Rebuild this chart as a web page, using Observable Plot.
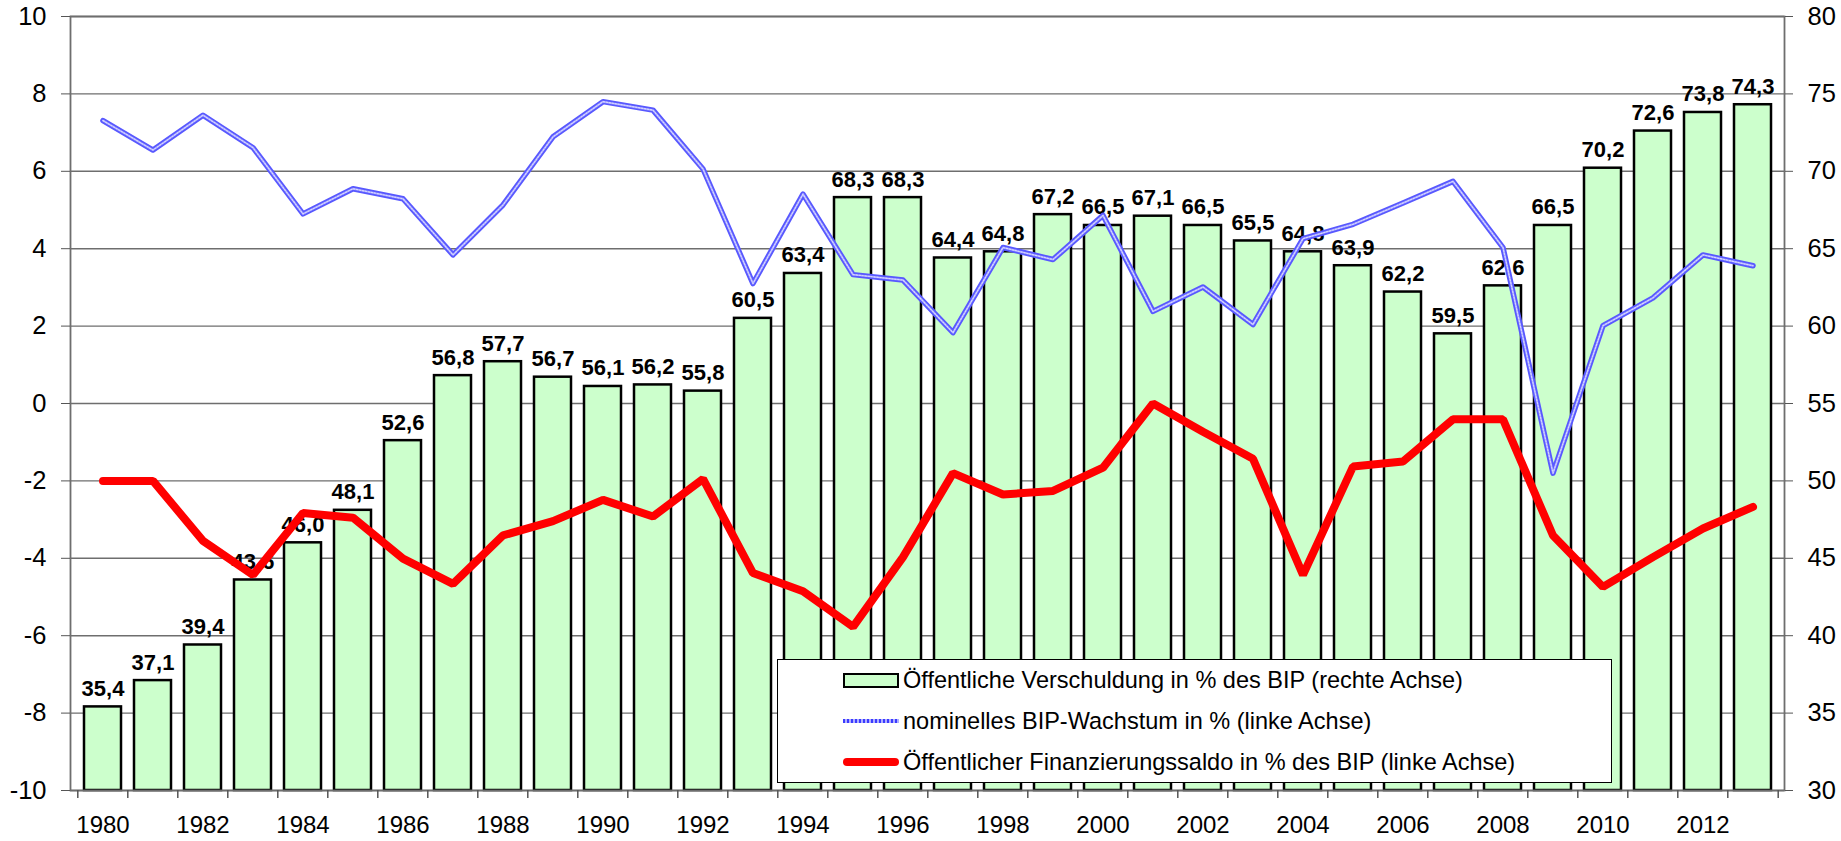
<!DOCTYPE html>
<html><head><meta charset="utf-8">
<script src="https://cdn.jsdelivr.net/npm/d3@7"></script>
<script src="https://cdn.jsdelivr.net/npm/@observablehq/plot@0.6"></script>
<style>
body{margin:0;background:#fff;}
#wrap{position:relative;width:1841px;height:841px;}
#legend{position:absolute;left:777px;top:659px;width:835px;height:124px;border:1.5px solid #000;background:#fff;box-sizing:border-box;
 font-family:Arial,"Liberation Sans",sans-serif;color:#000;}
.row{position:absolute;left:0;height:30px;display:flex;align-items:center;white-space:nowrap;}
.sym{width:56px;margin-left:65px;margin-right:4px;box-sizing:border-box;}
</style>
</head><body>
<div id="wrap"></div>
<script>
const years = [1980,1981,1982,1983,1984,1985,1986,1987,1988,1989,1990,1991,1992,1993,1994,1995,1996,1997,1998,1999,2000,2001,2002,2003,2004,2005,2006,2007,2008,2009,2010,2011,2012,2013];
const debt = [35.4,37.1,39.4,43.6,46.0,48.1,52.6,56.8,57.7,56.7,56.1,56.2,55.8,60.5,63.4,68.3,68.3,64.4,64.8,67.2,66.5,67.1,66.5,65.5,64.8,63.9,62.2,59.5,62.6,66.5,70.2,72.6,73.8,74.3];
const growth = [7.31,6.55,7.45,6.61,4.90,5.55,5.29,3.84,5.13,6.89,7.80,7.58,6.06,3.10,5.41,3.33,3.19,1.83,4.03,3.72,4.86,2.38,3.01,2.04,4.26,4.63,5.18,5.74,4.03,-1.80,2.01,2.73,3.84,3.56];
const balance = [-2.0,-2.0,-3.55,-4.43,-2.83,-2.95,-4.01,-4.66,-3.41,-3.04,-2.49,-2.92,-1.95,-4.38,-4.85,-5.77,-3.97,-1.80,-2.35,-2.26,-1.66,0.0,-0.73,-1.43,-4.43,-1.63,-1.50,-0.41,-0.41,-3.41,-4.74,-3.97,-3.23,-2.67];
const leftTicks = [-10,-8,-6,-4,-2,0,2,4,6,8,10];
const rightTicks = [30,35,40,45,50,55,60,65,70,75,80];
const labelYears = [1980,1982,1984,1986,1988,1990,1992,1994,1996,1998,2000,2002,2004,2006,2008,2010,2012];
const legendLabels = [
  "Öffentliche Verschuldung in % des BIP (rechte Achse)",
  "nominelles BIP-Wachstum in % (linke Achse)",
  "Öffentlicher Finanzierungssaldo in % des BIP (linke Achse)"
];

// right axis (30..80) mapped onto left axis (-10..10)
const toLeft = d => (d - 55) * 0.4;
const toRight = v => Math.round(v / 0.4 + 55);
const fmt = v => v.toFixed(1).replace(".", ",");

const W = 1841, H = 841, mL = 70, mR = 57, mT = 16, mB = 51;
const step = (W - mL - mR) / years.length;
const rows = years.map((y, i) => ({year: y, debt: debt[i], dl: toLeft(debt[i]), growth: growth[i], balance: balance[i]}));

const chart = Plot.plot({
  width: W, height: H, marginLeft: mL, marginRight: mR, marginTop: mT, marginBottom: mB,
  style: {fontFamily: "Arial, 'Liberation Sans', sans-serif", fontSize: "24px", color: "#000", background: "#fff", overflow: "visible"},
  x: {type: "band", domain: years, paddingInner: 0.27, paddingOuter: 0.135, label: null},
  y: {domain: [-10, 10], label: null},
  marks: [
    Plot.ruleY(leftTicks, {stroke: "#6e6e6e", strokeWidth: 1.4}),
    Plot.barY(rows, {x: "year", y1: -10, y2: "dl", fill: "#ccffcc", stroke: "#000", strokeWidth: 2.5}),
    Plot.text(rows, {x: "year", y: "dl", text: d => fmt(d.debt), lineAnchor: "bottom", dy: -11, fontWeight: "bold", fontSize: 22, fill: "#000"}),
    Plot.line(rows, {x: "year", y: "growth", stroke: "#5858ff", strokeWidth: 5.5}),
    Plot.line(rows, {x: "year", y: "growth", stroke: "#9a9aff", strokeWidth: 2}),
    Plot.line(rows, {x: "year", y: "growth", stroke: "#ffffff", strokeWidth: 1.2, strokeDasharray: "1.5,1.5", strokeOpacity: 0.6}),
    Plot.line(rows, {x: "year", y: "balance", stroke: "#ff0000", strokeWidth: 8, strokeLinecap: "round", strokeLinejoin: "miter"}),
    Plot.frame({stroke: "#6e6e6e", strokeWidth: 1.8}),
    Plot.axisY({anchor: "left", ticks: leftTicks, tickSize: 9, tickPadding: 15, tickFormat: d => String(d), stroke: "#555", fontSize: 25.5, label: null}),
    Plot.axisY({anchor: "right", ticks: rightTicks.map(toLeft), tickSize: 8, tickPadding: 15, tickFormat: v => String(toRight(v)), stroke: "#555", fontSize: 25.5, label: null}),
    Plot.ruleX(years, {x: d => d, y1: -10, y2: -10, insetBottom: -8, dx: -step / 2, stroke: "#555", strokeWidth: 1.5}),
    Plot.ruleX([years[years.length - 1]], {x: d => d, y1: -10, y2: -10, insetBottom: -8, dx: step / 2, stroke: "#555", strokeWidth: 1.5}),
    Plot.axisX({ticks: labelYears, tickSize: 0, tickPadding: 25, tickFormat: d => String(d), fontSize: 24, label: null})
  ]
});
const wrap = document.getElementById("wrap");
wrap.appendChild(chart);

// make sure tick-label sizes take effect
const svg = d3.select(chart);
svg.selectAll("g[aria-label='y-axis tick label'], g[aria-label='y-axis tick label'] text").style("font-size", "25.5px");
svg.selectAll("g[aria-label='x-axis tick label'], g[aria-label='x-axis tick label'] text").style("font-size", "24px");

// legend: font size fitted so the first entry is ~562px wide
const ctx = document.createElement("canvas").getContext("2d");
ctx.font = "22px Arial, 'Liberation Sans', sans-serif";
const lgFont = 22 * 562 / ctx.measureText(legendLabels[0]).width;
const lg = document.createElement("div");
lg.id = "legend";
lg.style.fontSize = lgFont + "px";
const centers = [20, 61, 102];
const syms = [
  s => { s.style.height = "15px"; s.style.background = "#ccffcc"; s.style.border = "2.5px solid #000"; },
  s => { s.style.height = "4px"; s.style.background = "repeating-linear-gradient(90deg,#3b3bff 0 2px,#b0b0ff 2px 4px)"; },
  s => { s.style.height = "8px"; s.style.background = "#ff0000"; s.style.borderRadius = "4px"; }
];
legendLabels.forEach((t, i) => {
  const r = document.createElement("div");
  r.className = "row";
  r.style.top = (centers[i] - 15) + "px";
  const s = document.createElement("div");
  s.className = "sym";
  syms[i](s);
  const sp = document.createElement("span");
  sp.textContent = t;
  r.appendChild(s); r.appendChild(sp);
  lg.appendChild(r);
});
wrap.appendChild(lg);
</script>
</body></html>
